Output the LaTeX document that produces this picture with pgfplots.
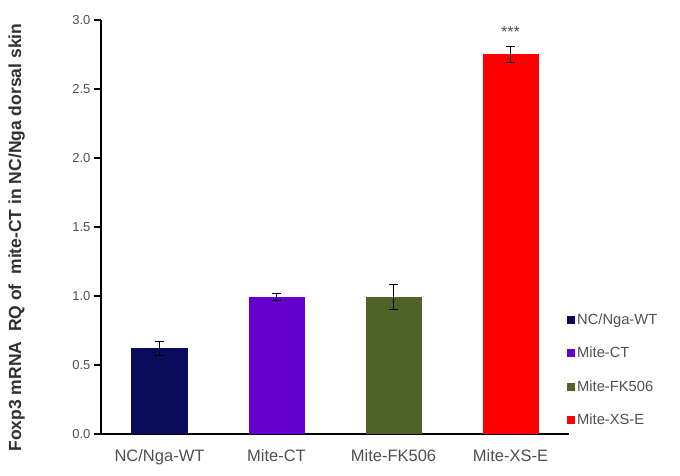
\documentclass[border=0pt]{standalone}
\usepackage{fontspec}
\setmainfont{Liberation Sans}
\usepackage{pgfplots}
\pgfplotsset{compat=1.18}
\definecolor{cnavy}{HTML}{0B0B5E}
\definecolor{cpurple}{HTML}{6600CC}
\definecolor{colive}{HTML}{4F6228}
\definecolor{cred}{HTML}{FF0000}
\definecolor{ctext}{HTML}{505050}
\definecolor{clabel}{HTML}{303030}
\pgfplotsset{sqlegend/.style={legend image code/.code={\fill[##1,draw=none] (0pt,-4pt) rectangle (8pt,4pt);}},
  myerr/.style={error bars/.cd, y dir=both, y explicit,
    error bar style={line width=1pt,black},
    error mark options={rotate=90,mark size=4.5pt,line width=1pt,black}}}
\begin{document}
\begin{tikzpicture}
\useasboundingbox (-101pt,-42pt) rectangle (579pt,434pt);
\begin{axis}[
  scale only axis, width=468pt, height=414pt,
  xmin=-0.5, xmax=3.5, ymin=0, ymax=3,
  axis x line*=bottom, axis y line*=left,
  axis line style={-,line width=1.6pt,black},
  ytick={0,0.5,1,1.5,2,2.5,3},
  yticklabel style={/pgf/number format/fixed,/pgf/number format/fixed zerofill,/pgf/number format/precision=1,font=\fontsize{13}{15}\selectfont,text=ctext},
  /pgf/number format/assume math mode=true,
  xtick={0,1,2,3},
  xticklabels={NC/Nga-WT,Mite-CT,Mite-FK506,Mite-XS-E},
  xticklabel style={font=\fontsize{16.5}{18}\selectfont,text=ctext,yshift=-5pt},
  x tick style={draw=none},
  y tick style={line width=1.2pt,black},
  tick align=outside, major tick length=7pt,
  ylabel={Foxp3 mRNA~~RQ of~~mite-CT in NC/Nga dorsal skin},
  ylabel style={at={(axis description cs:-0.18,0.4745)},anchor=center,font=\bfseries\fontsize{17.5}{19}\selectfont,text=clabel},
  ybar, bar width=56pt, bar shift=0pt,
  legend style={at={(1,0)},anchor=south west,xshift=-2pt,yshift=6pt,draw=none,fill=none,
    font=\fontsize{14.7}{16}\selectfont,text=ctext,row sep=17pt,inner sep=0pt},
  legend cell align=left,
  clip=false,
]
\addplot[sqlegend,fill=cnavy,draw=none,myerr] coordinates {(0,0.62) +- (0,0.05)};
\addlegendentry{NC/Nga-WT}
\addplot[sqlegend,fill=cpurple,draw=none,myerr] coordinates {(1,0.99) +- (0,0.025)};
\addlegendentry{Mite-CT}
\addplot[sqlegend,fill=colive,draw=none,myerr] coordinates {(2,0.99) +- (0,0.09)};
\addlegendentry{Mite-FK506}
\addplot[sqlegend,fill=cred,draw=none,myerr] coordinates {(3,2.75) +- (0,0.06)};
\addlegendentry{Mite-XS-E}
\node[text=ctext,font=\fontsize{16}{18}\selectfont] at (axis cs:3,2.915) {***};
\end{axis}
\end{tikzpicture}
\end{document}
